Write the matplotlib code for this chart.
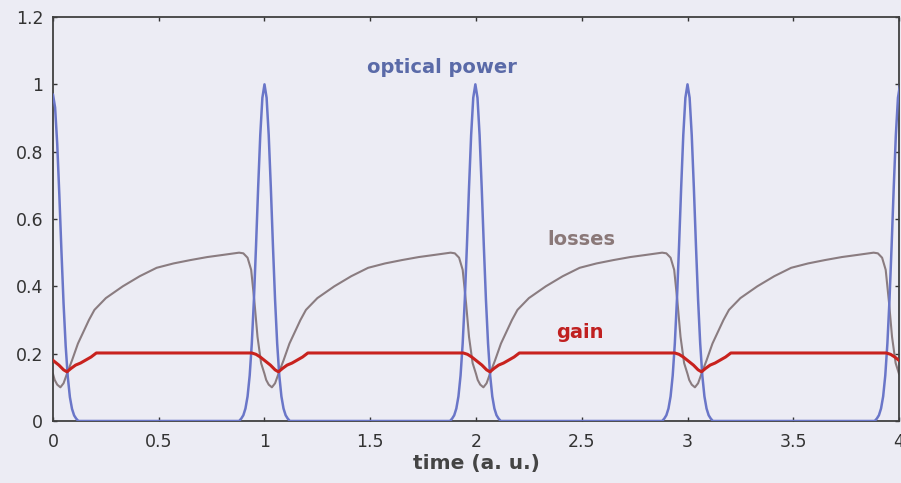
import numpy as np
import matplotlib
matplotlib.use("Agg")
import matplotlib.pyplot as plt

# pulse centres and peak heights of the optical power
pulse_centers = [0.0, 1.0, 1.997, 3.0, 4.005]
pulse_peaks = [0.97, 1.0, 1.0, 1.0, 1.0]

# normalised pulse shape around each centre
pulse_dt = [-0.12, -0.11, -0.10, -0.09, -0.08, -0.07, -0.06, -0.05, -0.04, -0.03, -0.02, -0.01,
            0.0, 0.01, 0.02, 0.03, 0.04, 0.05, 0.06, 0.07, 0.08, 0.09, 0.10, 0.11, 0.12]
pulse_shape = [0.0, 0.007, 0.017, 0.037, 0.073, 0.135, 0.23, 0.36, 0.52, 0.693, 0.849, 0.96,
               1.0, 0.96, 0.849, 0.693, 0.52, 0.36, 0.23, 0.135, 0.073, 0.037, 0.017, 0.007, 0.0]

# one round trip of the losses, time measured from the pulse
loss_dt = [0.0, 0.008, 0.02, 0.035, 0.05, 0.07, 0.09, 0.118, 0.17, 0.196, 0.25, 0.33, 0.41,
           0.49, 0.57, 0.65, 0.73, 0.80, 0.88, 0.90, 0.92, 0.937, 0.953, 0.967, 0.984]
loss_val = [0.14, 0.122, 0.108, 0.10, 0.112, 0.147, 0.18, 0.23, 0.30, 0.33, 0.365, 0.40, 0.43,
            0.455, 0.468, 0.478, 0.487, 0.493, 0.50, 0.498, 0.485, 0.449, 0.35, 0.25, 0.172]

# one round trip of the gain
gain_dt = [0.0, 0.028, 0.05, 0.066, 0.085, 0.107, 0.13, 0.155, 0.18, 0.205,
           0.94, 0.96, 0.98]
gain_val = [0.18, 0.166, 0.152, 0.146, 0.156, 0.166, 0.172, 0.181, 0.19, 0.202,
            0.202, 0.198, 0.19]

cycle_starts = [0.0, 1.0, 2.0, 3.0]
t_end = 4.0
loss_end = 0.14
gain_end = 0.18

bg = "#ececf4"
c_power = "#6a76c8"
c_loss = "#8a7c80"
c_gain = "#c8221e"

t_p, p = [], []
for c, pk in zip(pulse_centers, pulse_peaks):
    t_p.extend(c + np.array(pulse_dt))
    p.extend(pk * np.array(pulse_shape))

t_l, l = [], []
t_g, g = [], []
for c in cycle_starts:
    t_l.extend(c + np.array(loss_dt))
    l.extend(loss_val)
    t_g.extend(c + np.array(gain_dt))
    g.extend(gain_val)
t_l.append(t_end); l.append(loss_end)
t_g.append(t_end); g.append(gain_end)

fig = plt.figure(figsize=(9.01, 4.83), dpi=100, facecolor=bg)
ax = fig.add_axes([0.0588, 0.1284, 0.9390, 0.8364], facecolor=bg)

ax.plot(t_l, l, color=c_loss, lw=1.5, zorder=2)
ax.plot(t_p, p, color=c_power, lw=1.8, zorder=3)
ax.plot(t_g, g, color=c_gain, lw=2.2, zorder=4)

ax.set_xlim(0, 4)
ax.set_ylim(0, 1.2)
ax.set_xticks([0, 0.5, 1, 1.5, 2, 2.5, 3, 3.5, 4])
ax.set_xticklabels(["0", "0.5", "1", "1.5", "2", "2.5", "3", "3.5", "4"])
ax.set_yticks([0, 0.2, 0.4, 0.6, 0.8, 1.0, 1.2])
ax.set_yticklabels(["0", "0.2", "0.4", "0.6", "0.8", "1", "1.2"])
ax.tick_params(direction="in", length=3, width=1, top=True, right=True,
               labelsize=12.5, colors="#333333", pad=7)
ax.tick_params(axis="x", pad=9)
for s in ax.spines.values():
    s.set_color("#404040")
    s.set_linewidth(1.3)

ax.set_xlabel("time (a. u.)", fontsize=14.5, fontweight="bold", color="#444444", labelpad=2)

ax.text(1.84, 1.05, "optical power", color="#5a6aa8", fontsize=14, fontweight="bold",
        ha="center", va="center")
ax.text(2.50, 0.54, "losses", color="#8a7878", fontsize=14, fontweight="bold",
        ha="center", va="center")
ax.text(2.49, 0.264, "gain", color="#c02020", fontsize=14, fontweight="bold",
        ha="center", va="center")

fig.savefig("out.png", dpi=100, facecolor=bg)
